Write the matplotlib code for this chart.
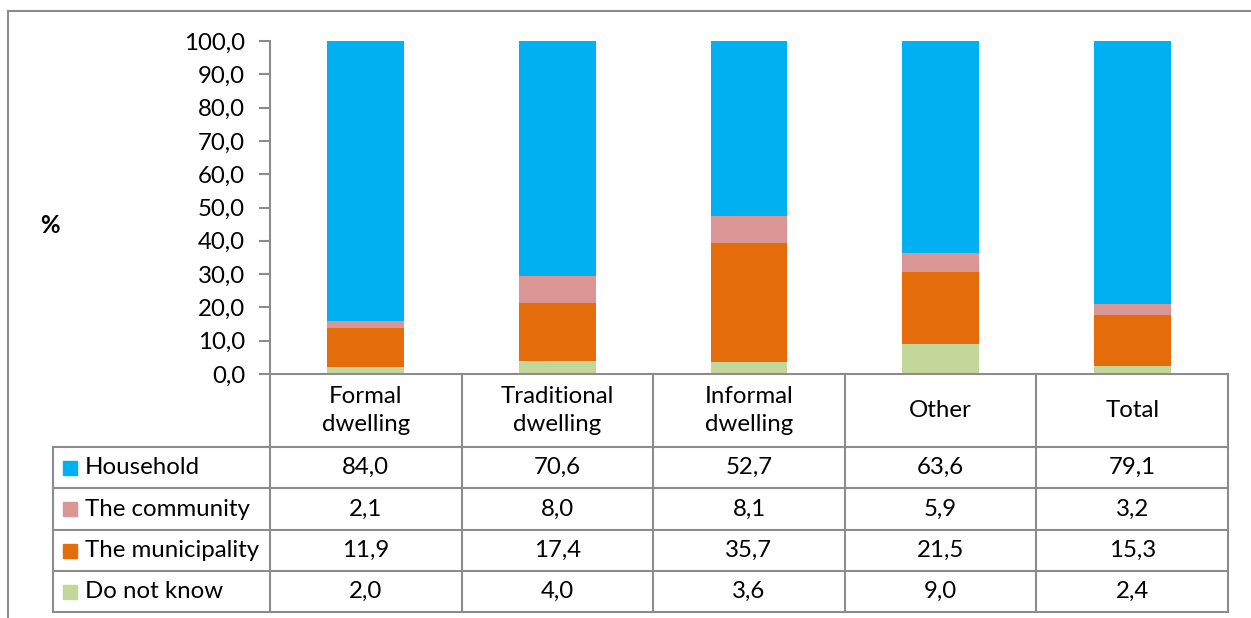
import matplotlib
matplotlib.use("Agg")
import matplotlib.pyplot as plt
from matplotlib.patches import Rectangle
import numpy as np

categories = ["Formal\ndwelling", "Traditional\ndwelling", "Informal\ndwelling", "Other", "Total"]
series_names = ["Household", "The community", "The municipality", "Do not know"]
household = [84.0, 70.6, 52.7, 63.6, 79.1]
community = [2.1, 8.0, 8.1, 5.9, 3.2]
municipality = [11.9, 17.4, 35.7, 21.5, 15.3]
do_not_know = [2.0, 4.0, 3.6, 9.0, 2.4]
colors = ["#00B0F0", "#DA9694", "#E46C0A", "#C4D79B"]
y_ticks = np.arange(0, 101, 10)

plt.rcParams["font.family"] = ["Lato", "DejaVu Sans"]
FS = 17.3
GRID = "#8C8C8C"

W, H = 1251, 618
fig = plt.figure(figsize=(W / 100, H / 100), dpi=100)

# pixel helper for placing axes
def rect(x0, y0, x1, y1):
    return [x0 / W, 1 - y1 / H, (x1 - x0) / W, (y1 - y0) / H]

# outer frame (page border)
frame = fig.add_axes([0, 0, 1, 1])
frame.set_xlim(0, W); frame.set_ylim(H, 0); frame.axis("off")
frame.plot([8, W], [11, 11], color=GRID, lw=1.5)
frame.plot([8, 8], [11, H], color=GRID, lw=1.5)

ax = fig.add_axes(rect(270, 41, 1228, 374))
x = np.arange(len(categories)) + 0.5
stack = [do_not_know, municipality, community, household]
stack_colors = [colors[3], colors[2], colors[1], colors[0]]
bottom = np.zeros(len(categories))
for vals, c in zip(stack, stack_colors):
    ax.bar(x, vals, 0.4, bottom=bottom, color=c, edgecolor="none")
    bottom += np.array(vals)
ax.set_xlim(0, len(categories))
ax.set_ylim(0, 100)
ax.set_yticks(y_ticks)
ax.set_yticklabels([f"{v:.1f}".replace(".", ",") for v in y_ticks], fontsize=FS)
ax.tick_params(axis="y", length=8, width=1.5, color=GRID, pad=10)
ax.set_xticks([])
for s in ["top", "right"]:
    ax.spines[s].set_visible(False)
ax.spines["left"].set_color(GRID); ax.spines["left"].set_linewidth(1.5)
ax.spines["bottom"].set_color(GRID); ax.spines["bottom"].set_linewidth(1.5)
fig.text(50 / W, 1 - 225 / H, "%", fontsize=FS, fontweight="bold", ha="center", va="center")

# data table drawn below the axis
tb = fig.add_axes(rect(53, 374, 1228, 612))
tb.set_xlim(53, 1228); tb.set_ylim(612, 374); tb.axis("off")
col_edges = np.linspace(270, 1228, len(categories) + 1)
row_edges = [374, 447, 488, 530, 571, 612]
lk = dict(color=GRID, lw=1.5, solid_capstyle="projecting", clip_on=False)
for xe in col_edges:
    tb.plot([xe, xe], [374, 612], **lk)
tb.plot([53, 53], [447, 612], **lk)
for ye in row_edges[1:]:
    tb.plot([53, 1228], [ye, ye], **lk)

col_centers = (col_edges[:-1] + col_edges[1:]) / 2
for cx, cat in zip(col_centers, categories):
    tb.text(cx, (374 + 447) / 2, cat, ha="center", va="center", fontsize=FS, linespacing=1.45)

table_rows = [household, community, municipality, do_not_know]
for i, (name, vals, c) in enumerate(zip(series_names, table_rows, colors)):
    yc = (row_edges[i + 1] + row_edges[i + 2]) / 2
    tb.add_patch(Rectangle((63, yc - 7), 14, 14, color=c, clip_on=False))
    tb.text(85, yc, name, ha="left", va="center", fontsize=FS)
    for cx, v in zip(col_centers, vals):
        tb.text(cx, yc, f"{v:.1f}".replace(".", ","), ha="center", va="center", fontsize=FS)

fig.savefig("out.png", dpi=100)
